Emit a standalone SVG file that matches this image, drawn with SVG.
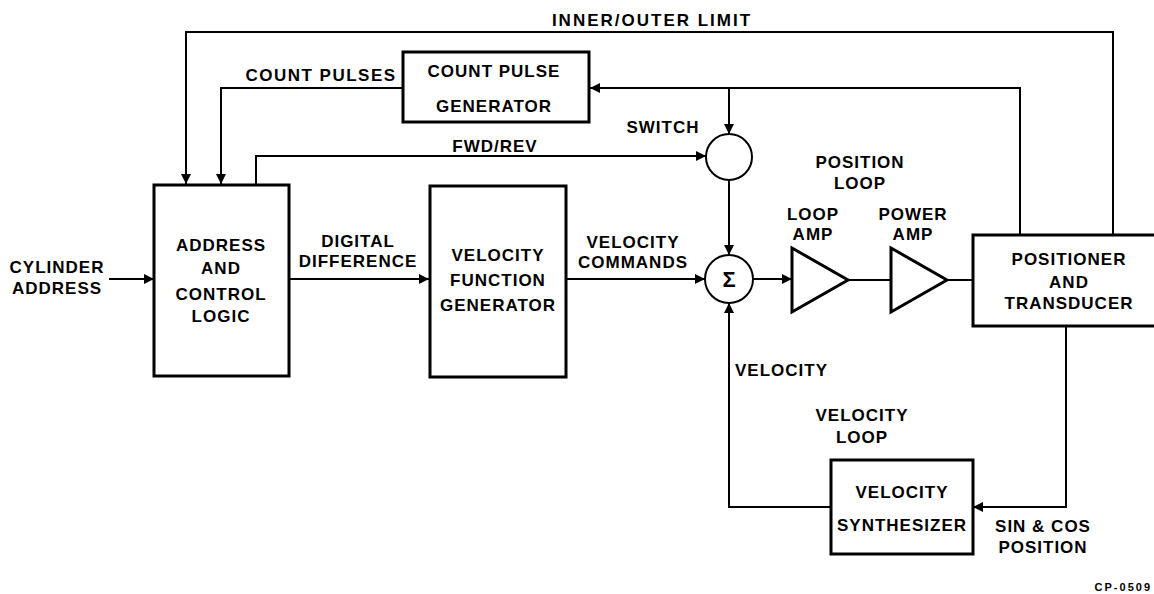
<svg xmlns="http://www.w3.org/2000/svg" width="1154" height="594" viewBox="0 0 1154 594">
<style>
text{font-family:"Liberation Sans",Arial,sans-serif;font-weight:bold;font-size:17px;fill:#000;text-anchor:middle;letter-spacing:1px}
.box{fill:#fff;stroke:#000;stroke-width:3}
.c{fill:none;stroke:#000;stroke-width:2}
.a{marker-end:url(#ah)}
.sm{font-size:11px;letter-spacing:2px}
</style>
<defs>
<marker id="ah" markerUnits="userSpaceOnUse" markerWidth="10" markerHeight="10" refX="10" refY="5" orient="auto" viewBox="0 0 10 10">
<path d="M0,0 L10,5 L0,10 z" fill="#000"/>
</marker>
</defs>
<g id="connectors">
<path class="c a" d="M109,279 H154"/>
<path class="c a" d="M289,279 H429"/>
<path class="c a" d="M566,279 H705"/>
<path class="c a" d="M729,180 V255"/>
<path class="c a" d="M753,279 H792"/>
<path class="c" d="M848,280 H891"/>
<path class="c" d="M947,280 H973"/>
<path class="c a" d="M1020,235 V88 H590"/>
<path class="c a" d="M729,88 V134"/>
<path class="c a" d="M1113,235 V32 H186 V184"/>
<path class="c a" d="M403,88 H221 V184"/>
<path class="c a" d="M256,185 V156 H706"/>
<path class="c a" d="M1066,326 V507 H973"/>
<path class="c a" d="M831,507 H729 V303"/>
</g>
<g id="address-logic">
<rect class="box" x="154" y="185" width="135" height="191"/>
<text x="221" y="251">ADDRESS</text>
<text x="221" y="274">AND</text>
<text x="221" y="300">CONTROL</text>
<text x="221" y="322">LOGIC</text>
</g>
<g id="velocity-function-generator">
<rect class="box" x="430" y="186" width="136" height="191"/>
<text x="498" y="261">VELOCITY</text>
<text x="498" y="286">FUNCTION</text>
<text x="498" y="311">GENERATOR</text>
</g>
<g id="count-pulse-generator">
<rect class="box" x="403" y="52" width="186" height="70"/>
<text x="494" y="77">COUNT PULSE</text>
<text x="494" y="112">GENERATOR</text>
</g>
<g id="switch">
<circle class="c" cx="729" cy="157" r="23" fill="#fff" stroke-width="3"/>
</g>
<g id="sum">
<circle class="c" cx="729" cy="279" r="24" fill="#fff" stroke-width="3"/>
<text x="729" y="287" style="letter-spacing:0;font-size:22px">Σ</text>
</g>
<g id="loop-amp">
<path d="M792,248 L848,280 L792,312 Z" fill="#fff" stroke="#000" stroke-width="3"/>
</g>
<g id="power-amp">
<path d="M891,248 L947,280 L891,312 Z" fill="#fff" stroke="#000" stroke-width="3"/>
</g>
<g id="positioner-transducer">
<rect class="box" x="973" y="235" width="200" height="91"/>
<text x="1069" y="265">POSITIONER</text>
<text x="1069" y="288">AND</text>
<text x="1069" y="309">TRANSDUCER</text>
</g>
<g id="velocity-synthesizer">
<rect class="box" x="831" y="460" width="142" height="94"/>
<text x="902" y="498">VELOCITY</text>
<text x="902" y="531">SYNTHESIZER</text>
</g>
<g id="labels">
<text x="652" y="26" style="letter-spacing:2px">INNER/OUTER LIMIT</text>
<text x="321" y="81" style="letter-spacing:1.5px">COUNT PULSES</text>
<text x="663" y="133">SWITCH</text>
<text x="495" y="152">FWD/REV</text>
<text x="860" y="168">POSITION</text>
<text x="860" y="189">LOOP</text>
<text x="813" y="220">LOOP</text>
<text x="813" y="240">AMP</text>
<text x="913" y="220">POWER</text>
<text x="913" y="240">AMP</text>
<text x="57" y="273">CYLINDER</text>
<text x="57" y="294">ADDRESS</text>
<text x="358" y="247">DIGITAL</text>
<text x="358" y="267">DIFFERENCE</text>
<text x="633" y="248">VELOCITY</text>
<text x="633" y="268">COMMANDS</text>
<text x="735" y="376" style="text-anchor:start">VELOCITY</text>
<text x="862" y="421">VELOCITY</text>
<text x="862" y="443">LOOP</text>
<text x="1043" y="532">SIN &amp; COS</text>
<text x="1043" y="553">POSITION</text>
<text class="sm" x="1152" y="591" style="text-anchor:end">CP-0509</text>
</g>
</svg>
